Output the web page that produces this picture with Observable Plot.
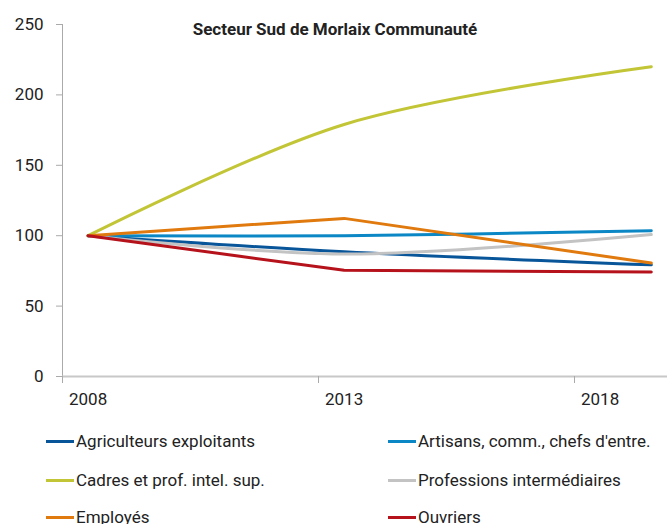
<!DOCTYPE html>
<html>
<head>
<meta charset="utf-8">
<script src="https://cdn.jsdelivr.net/npm/d3@7"></script>
<script src="https://cdn.jsdelivr.net/npm/@observablehq/plot@0.6"></script>
<style>
  html, body { margin: 0; padding: 0; background: #fff; }
  #wrap { position: relative; width: 667px; height: 524px; overflow: hidden; font-family: Roboto, "Noto Sans", sans-serif; }
  #chart { position: absolute; left: 0; top: 0; }
  .leg { position: absolute; display: flex; align-items: center; font-size: 17px; color: #222; white-space: nowrap; }
  .leg .sw { width: 28px; height: 3px; margin-right: 2px; }
</style>
</head>
<body>
<div id="wrap"><div id="chart"></div></div>
<script>
const years = [2008, 2013, 2019];
const series = ["Agriculteurs exploitants", "Artisans, comm., chefs d'entre.", "Cadres et prof. intel. sup.", "Professions intermédiaires", "Employés", "Ouvriers"];
const agriculteurs = [100, 88.6, 79.3];
const artisans = [100, 100, 103.5];
const cadres = [100, 179, 220];
const professions = [100, 87, 100.8];
const employes = [100, 112.3, 80.6];
const ouvriers = [100, 75.4, 74.3];
const colors = ["#08559a", "#0a87c4", "#c2c535", "#c3c3c3", "#e07a0e", "#b5121b"];
const smooth = [true, true, true, true, false, false];
const yTicks = [0, 50, 100, 150, 200, 250];
const xLabels = [2008, 2013, 2018];
const title = "Secteur Sud de Morlaix Communauté";

const values = [agriculteurs, artisans, cadres, professions, employes, ouvriers];
const data = [];
series.forEach((s, i) => values[i].forEach((v, j) => data.push({serie: s, year: years[j], value: v})));

const x0 = 2007.5;
const bandPx = 51.2;
const width = 667, marginLeft = 62, marginRight = 0;
const x1 = x0 + (width - marginLeft - marginRight) / bandPx;
const tickMarks = xLabels.map(d => d - 0.5);

const lineMarks = series.map((s, i) => Plot.line(data.filter(d => d.serie === s), {
  x: "year", y: "value", stroke: colors[i], strokeWidth: 3,
  curve: smooth[i] ? "catmull-rom" : "linear"
}));

const plot = Plot.plot({
  width, height: 420,
  marginLeft, marginRight, marginTop: 24, marginBottom: 44,
  style: { fontFamily: "Roboto, 'Noto Sans', sans-serif", background: "#fff", color: "#222" },
  x: { type: "linear", domain: [x0, x1] },
  y: { domain: [0, 250] },
  marks: [
    Plot.ruleX([x0], { stroke: "#aaa", strokeWidth: 1 }),
    Plot.ruleY([0], { stroke: "#c8c8c8", strokeWidth: 2 }),
    Plot.axisY({ ticks: yTicks, tickSize: 6, tickPadding: 13, fontSize: 17, stroke: "#aaa", label: null }),
    Plot.axisX({ ticks: tickMarks, tickSize: 7, tickFormat: () => "", stroke: "#aaa", label: null }),
    Plot.axisX({ ticks: xLabels, tickSize: 0, tickPadding: 16, fontSize: 17, tickFormat: d => String(d), label: null }),
    ...lineMarks,
    Plot.text([title], { frameAnchor: "top", lineAnchor: "middle", dx: -30, dy: 5, fontWeight: "bold", fontSize: 17, fill: "#222" })
  ]
});
document.getElementById("chart").appendChild(plot);

const wrap = document.getElementById("wrap");
const rowY = [441, 480, 517];
const colX = [46, 388];
series.forEach((s, i) => {
  const el = document.createElement("div");
  el.className = "leg";
  el.style.left = colX[i % 2] + "px";
  el.style.top = (rowY[Math.floor(i / 2)] - 10) + "px";
  el.style.height = "20px";
  el.innerHTML = `<span class="sw" style="background:${colors[i]}"></span><span></span>`;
  el.lastChild.textContent = s;
  wrap.appendChild(el);
});
</script>
</body>
</html>
